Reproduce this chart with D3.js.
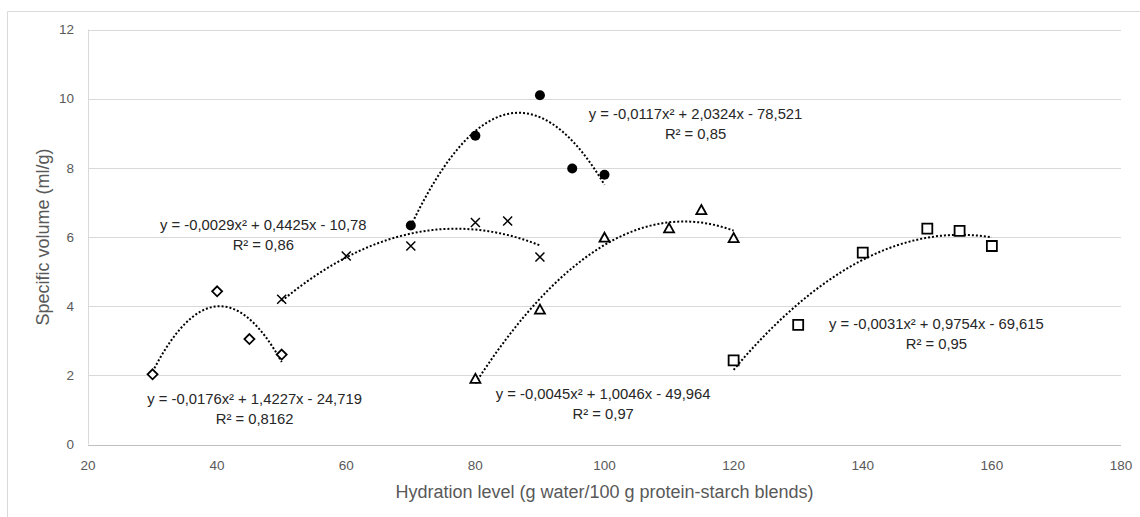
<!DOCTYPE html>
<html>
<head>
<meta charset="utf-8">
<script src="https://cdn.jsdelivr.net/npm/d3@7"></script>
<style>
body { margin: 0; background: #fff; }
text { font-family: "Liberation Sans", "Noto Sans", sans-serif; }
</style>
</head>
<body>
<div id="container"><svg></svg></div>
<script>
let width = 1140;
let height = 517;

// data
let diamondX = [30, 40, 45, 50];
let diamondY = [2.03, 4.43, 3.05, 2.6];
let crossX = [50, 60, 70, 80, 85, 90];
let crossY = [4.2, 5.45, 5.74, 6.42, 6.46, 5.42];
let circleX = [70, 80, 90, 95, 100];
let circleY = [6.33, 8.93, 10.1, 7.98, 7.8];
let triangleX = [80, 90, 100, 110, 115, 120];
let triangleY = [1.9, 3.9, 5.98, 6.25, 6.78, 5.97];
let squareX = [120, 130, 140, 150, 155, 160];
let squareY = [2.43, 3.46, 5.55, 6.24, 6.18, 5.74];

let equations = [
    ["y = -0,0176x² + 1,4227x - 24,719", "R² = 0,8162"],
    ["y = -0,0029x² + 0,4425x - 10,78", "R² = 0,86"],
    ["y = -0,0117x² + 2,0324x - 78,521", "R² = 0,85"],
    ["y = -0,0045x² + 1,0046x - 49,964", "R² = 0,97"],
    ["y = -0,0031x² + 0,9754x - 69,615", "R² = 0,95"]
];
let xTicks = [20, 40, 60, 80, 100, 120, 140, 160, 180];
let yTicks = [0, 2, 4, 6, 8, 10, 12];

// where each equation label sits (data units, centre of first line)
let eqAnchor = [[45.8, 1.31], [47.15, 6.34], [114.1, 9.55], [99.8, 1.46], [151.4, 3.48]];

let series = [
    {xs: diamondX, ys: diamondY, mark: "diamond"},
    {xs: crossX, ys: crossY, mark: "cross"},
    {xs: circleX, ys: circleY, mark: "circle"},
    {xs: triangleX, ys: triangleY, mark: "triangle"},
    {xs: squareX, ys: squareY, mark: "square"}
];

// least squares 2nd order fit, like the excel trendline
function polyfit2(xs, ys) {
    let s = [0, 0, 0, 0, 0], t = [0, 0, 0];
    for (let i = 0; i < xs.length; i++) {
        let p = 1;
        for (let k = 0; k < 5; k++) { s[k] += p; if (k < 3) t[k] += p * ys[i]; p *= xs[i]; }
    }
    let A = [[s[0], s[1], s[2], t[0]], [s[1], s[2], s[3], t[1]], [s[2], s[3], s[4], t[2]]];
    for (let i = 0; i < 3; i++) {
        for (let j = i + 1; j < 3; j++) {
            let f = A[j][i] / A[i][i];
            for (let k = i; k < 4; k++) A[j][k] -= f * A[i][k];
        }
    }
    let c = [0, 0, 0];
    for (let i = 2; i >= 0; i--) {
        let v = A[i][3];
        for (let k = i + 1; k < 3; k++) v -= A[i][k] * c[k];
        c[i] = v / A[i][i];
    }
    return c; // c0 + c1 x + c2 x^2
}

function markerPath(type) {
    if (type == "diamond") return "M0,-5L5,0L0,5L-5,0Z";
    if (type == "cross") return "M-4.5,-4.5L4.5,4.5M-4.5,4.5L4.5,-4.5";
    if (type == "triangle") return "M0,-5L5,4L-5,4Z";
    if (type == "square") return "M-5,-5H5V5H-5Z";
    return null;
}

function draw_chart() {
    let svg = d3.select('#container').select('svg')
        .attr('width', width)
        .attr('height', height);

    let x = d3.scaleLinear().domain([20, 180]).range([88, 1121]);
    let y = d3.scaleLinear().domain([0, 12]).range([444.5, 29.5]);

    // outer chart border (cut off right and bottom)
    svg.append("path")
        .attr("d", "M7.5," + height + "V11.5H" + width)
        .attr("fill", "none")
        .attr("stroke", "#d9d9d9");

    // gridlines
    svg.append("g")
        .selectAll("line")
        .data(yTicks.filter(d => d > 0))
        .join("line")
        .attr("x1", x(20)).attr("x2", x(180))
        .attr("y1", d => Math.round(y(d)) + 0.5)
        .attr("y2", d => Math.round(y(d)) + 0.5)
        .attr("stroke", "#d9d9d9");

    // axis lines
    svg.append("line")
        .attr("x1", x(20)).attr("x2", x(180))
        .attr("y1", Math.round(y(0)) + 0.5).attr("y2", Math.round(y(0)) + 0.5)
        .attr("stroke", "#bfbfbf");
    svg.append("line")
        .attr("x1", x(20) + 0.5).attr("x2", x(20) + 0.5)
        .attr("y1", y(0)).attr("y2", y(12))
        .attr("stroke", "#d9d9d9");

    // tick labels
    svg.append("g")
        .selectAll("text")
        .data(yTicks)
        .join("text")
        .attr("x", 74)
        .attr("y", d => y(d))
        .attr("dy", "0.35em")
        .attr("text-anchor", "end")
        .attr("font-size", 13.5)
        .attr("fill", "#595959")
        .text(d => d);
    svg.append("g")
        .selectAll("text")
        .data(xTicks)
        .join("text")
        .attr("x", d => x(d))
        .attr("y", 465)
        .attr("dy", "0.35em")
        .attr("text-anchor", "middle")
        .attr("font-size", 13.5)
        .attr("fill", "#595959")
        .text(d => d);

    // axis titles
    svg.append("text")
        .attr("x", (x(20) + x(180)) / 2)
        .attr("y", 492)
        .attr("dy", "0.35em")
        .attr("text-anchor", "middle")
        .attr("font-size", 18)
        .attr("fill", "#595959")
        .text("Hydration level (g water/100 g protein-starch blends)");
    svg.append("text")
        .attr("transform", "translate(43," + (y(0) + y(12)) / 2 + ") rotate(-90)")
        .attr("dy", "0.35em")
        .attr("text-anchor", "middle")
        .attr("font-size", 18)
        .attr("fill", "#595959")
        .text("Specific volume (ml/g)");

    // trendlines
    let line = d3.line().x(d => x(d[0])).y(d => y(d[1]));
    series.forEach(function (s) {
        let c = polyfit2(s.xs, s.ys);
        let x0 = d3.min(s.xs), x1 = d3.max(s.xs);
        let pts = d3.range(0, 61).map(i => {
            let v = x0 + (x1 - x0) * i / 60;
            return [v, c[0] + c[1] * v + c[2] * v * v];
        });
        svg.append("path")
            .attr("d", line(pts))
            .attr("fill", "none")
            .attr("stroke", "#000")
            .attr("stroke-width", 2)
            .attr("stroke-dasharray", "2,2");
    });

    // markers
    series.forEach(function (s) {
        let pts = s.xs.map((v, i) => [v, s.ys[i]]);
        let g = svg.append("g");
        if (s.mark == "circle") {
            g.selectAll("circle")
                .data(pts)
                .join("circle")
                .attr("cx", d => x(d[0]))
                .attr("cy", d => y(d[1]))
                .attr("r", 5)
                .attr("fill", "#000");
        } else {
            g.selectAll("path")
                .data(pts)
                .join("path")
                .attr("transform", d => "translate(" + x(d[0]) + "," + y(d[1]) + ")")
                .attr("d", markerPath(s.mark))
                .attr("fill", s.mark == "cross" ? "none" : "#fff")
                .attr("stroke", "#000")
                .attr("stroke-width", s.mark == "cross" ? 1.5 : 1.8);
        }
    });

    // equation labels
    let eq = svg.append("g")
        .selectAll("text")
        .data(equations)
        .join("text")
        .attr("text-anchor", "middle")
        .attr("font-size", 14.8)
        .attr("fill", "#262626");
    eq.append("tspan")
        .attr("x", (d, i) => x(eqAnchor[i][0]))
        .attr("y", (d, i) => y(eqAnchor[i][1]))
        .attr("dy", "0.35em")
        .text(d => d[0]);
    eq.append("tspan")
        .attr("x", (d, i) => x(eqAnchor[i][0]))
        .attr("y", (d, i) => y(eqAnchor[i][1]) + 20)
        .attr("dy", "0.35em")
        .text(d => d[1]);
}

draw_chart();
</script>
</body>
</html>
